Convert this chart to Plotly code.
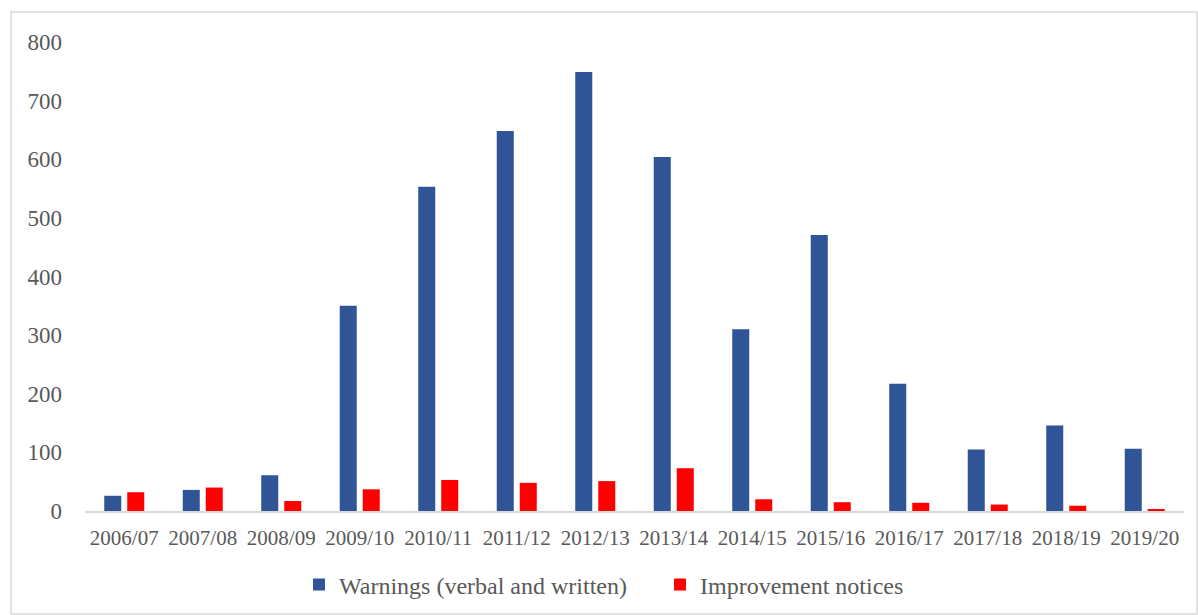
import plotly.graph_objects as go

years = ["2006/07", "2007/08", "2008/09", "2009/10", "2010/11", "2011/12", "2012/13",
         "2013/14", "2014/15", "2015/16", "2016/17", "2017/18", "2018/19", "2019/20"]
warnings = [26, 36, 61, 350, 553, 648, 749, 604, 310, 471, 217, 105, 146, 106]
improvement_notices = [32, 40, 17, 37, 53, 48, 51, 73, 20, 15, 14, 11, 9, 3]

W, H = 1198, 615
L, R, T, B = 85, 14, 42, 104
pw, ph = W - L - R, H - T - B

def px_x(p):
    return (p - L) / pw

def px_y(p):
    return (H - B - p) / ph

text_color = "#595959"
font = "Liberation Serif, Times New Roman, serif"

fig = go.Figure()
fig.add_trace(go.Bar(x=years, y=warnings, name="Warnings (verbal and written)",
                     marker=dict(color="#2F5597", line=dict(width=0))))
fig.add_trace(go.Bar(x=years, y=improvement_notices, name="Improvement notices",
                     marker=dict(color="#FF0000", line=dict(width=0))))

fig.update_layout(
    width=W, height=H,
    margin=dict(l=L, r=R, t=T, b=B, autoexpand=False),
    paper_bgcolor="white", plot_bgcolor="white",
    barmode="group", bargap=0.414, bargroupgap=0.26,
    font=dict(family=font, color=text_color, size=22),
    xaxis=dict(showgrid=False, showline=True, linecolor="#D9D9D9", linewidth=1.5,
               ticks="", tickfont=dict(size=21, color=text_color), ticklabelstandoff=7,
               automargin=False),
    yaxis=dict(range=[0, 800], dtick=100, showgrid=False, zeroline=False, showline=False,
               ticks="", tickfont=dict(size=23, color=text_color), ticklabelstandoff=22,
               automargin=False),
    legend=dict(orientation="h", xref="container", yref="container",
                x=299 / W, xanchor="left", y=1 - 585 / H, yanchor="middle",
                font=dict(size=24, color=text_color), itemwidth=30,
                entrywidth=316, itemsizing="constant"),
    showlegend=True,
)

# Light grey chart border
fig.add_shape(type="rect", xref="paper", yref="paper",
              x0=px_x(11), x1=px_x(1197), y0=px_y(614), y1=px_y(12),
              line=dict(color="#D9D9D9", width=1.5), fillcolor="rgba(0,0,0,0)", layer="below")

fig.write_html("out.html")
